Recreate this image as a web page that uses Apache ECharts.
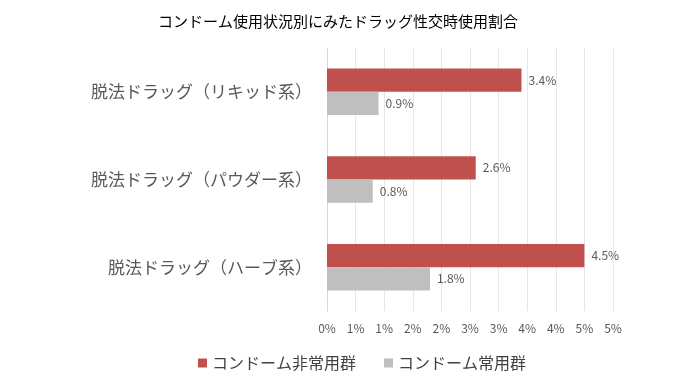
<!DOCTYPE html>
<html><head><meta charset="utf-8">
<script src="https://cdn.jsdelivr.net/npm/echarts@6/dist/echarts.min.js"></script>
<style>html,body{margin:0;padding:0;background:#fff}#c{width:676px;height:386px}</style>
</head><body><div id="c"></div>
<script>
var title = 'コンドーム使用状況別にみたドラッグ性交時使用割合';
var categories = ['脱法ドラッグ（リキッド系）', '脱法ドラッグ（パウダー系）', '脱法ドラッグ（ハーブ系）'];
var seriesNames = ['コンドーム非常用群', 'コンドーム常用群'];
var nonUsers = [3.4, 2.6, 4.5];
var users = [0.9, 0.8, 1.8];
var tickLabels = ['0%', '1%', '1%', '2%', '2%', '3%', '3%', '4%', '4%', '5%', '5%'];
var tickStep = 0.5;

var font = '"Noto Sans CJK JP", "Noto Sans", sans-serif';
var chart = echarts.init(document.getElementById('c'));
chart.setOption({
  animation: false,
  textStyle: {fontFamily: font},
  title: {text: title, left: 'center', top: 9,
    textStyle: {fontSize: 15, fontWeight: 'normal', color: '#000', fontFamily: font}},
  legend: {top: 350, left: 193, itemWidth: 9, itemHeight: 9, itemGap: 28,
    icon: 'rect', textStyle: {fontSize: 16, color: '#404040', fontFamily: font}},
  grid: {left: 327, right: 63, top: 48, bottom: 75, containLabel: false},
  xAxis: {type: 'value', min: 0, max: 5, interval: tickStep,
    axisLine: {show: false}, axisTick: {show: false},
    splitLine: {lineStyle: {color: '#e6e6e6'}},
    axisLabel: {margin: 11, fontSize: 12, color: '#595959', fontFamily: font,
      formatter: function (v) { return tickLabels[Math.round(v / tickStep)]; }}},
  yAxis: {type: 'category', inverse: true, data: categories,
    axisLine: {show: true, lineStyle: {color: '#d9d9d9'}}, axisTick: {show: false},
    axisLabel: {margin: 15, fontSize: 17, color: '#595959', fontFamily: font}},
  series: [
    {name: seriesNames[0], type: 'bar', data: nonUsers, barGap: '0%', barCategoryGap: '47%',
      itemStyle: {color: '#c0504d'},
      label: {show: true, position: 'right', distance: 7, fontSize: 12, color: '#595959',
        formatter: function (p) { return p.value.toFixed(1) + '%'; }}},
    {name: seriesNames[1], type: 'bar', data: users, barGap: '0%', barCategoryGap: '47%',
      itemStyle: {color: '#bfbfbf'},
      label: {show: true, position: 'right', distance: 7, fontSize: 12, color: '#595959',
        formatter: function (p) { return p.value.toFixed(1) + '%'; }}}
  ]
});
</script></body></html>
